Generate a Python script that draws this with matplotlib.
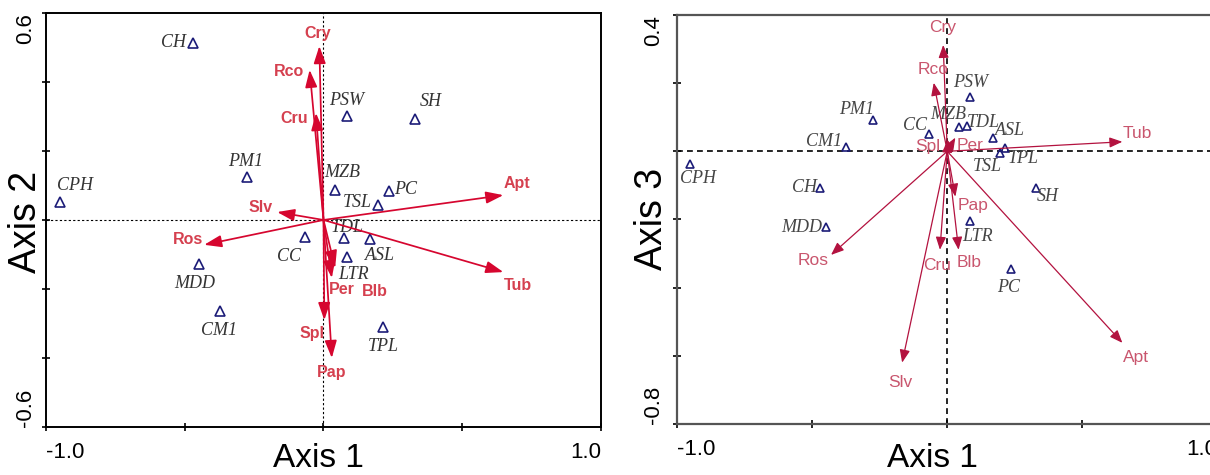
import matplotlib
matplotlib.use("Agg")
import matplotlib.pyplot as plt

plt.rcParams["font.family"] = ["Liberation Sans", "DejaVu Sans"]

# sites (triangles) on the three ordination axes
sites = ["CH", "CPH", "PM1", "PSW", "SH", "MZB", "PC", "TSL", "TDL", "ASL",
         "CC", "LTR", "MDD", "CM1", "TPL"]
site_ax1 = [-0.470, -0.951, -0.275, 0.085, 0.328, 0.043, 0.235, 0.196, 0.074,
            0.169, -0.068, 0.083, -0.450, -0.373, 0.214]
site_ax2 = [0.513, 0.052, 0.125, 0.301, 0.293, 0.087, 0.084, 0.043, -0.052,
            -0.055, -0.049, -0.107, -0.128, -0.264, -0.310]
site_ax3 = [-0.107, -0.037, 0.092, 0.160, -0.107, 0.072, -0.345, -0.004, 0.075,
            0.040, 0.051, -0.204, -0.221, 0.013, 0.010]

# traits (arrows)
traits = ["Cry", "Rco", "Cru", "Apt", "Slv", "Ros", "Tub", "Per", "Blb", "Spl", "Pap"]
trait_ax1 = [-0.015, -0.050, -0.027, 0.648, -0.167, -0.430, 0.648, 0.030, 0.042, 0.003, 0.030]
trait_ax2 = [0.504, 0.435, 0.310, 0.072, 0.023, -0.072, -0.151, -0.168, -0.139, -0.290, -0.400]
trait_ax3 = [0.312, 0.201, -0.289, -0.562, -0.620, -0.304, 0.028, 0.040, -0.289, 0.034, -0.133]

# label offsets in pixels (layout only)
site_off_left = {"CH": (-20, 0), "CPH": (15, 17), "PM1": (-2, 15), "PSW": (0, 16),
                 "SH": (16, 17), "MZB": (7, 17), "PC": (17, 1), "TSL": (-21, 3),
                 "TDL": (3, 10), "ASL": (10, -17), "CC": (-16, -20), "LTR": (7, -18),
                 "MDD": (-4, -19), "CM1": (-1, -19), "TPL": (0, -20)}
trait_off_left = {"Cry": (-2, 13), "Rco": (-21, -2), "Cru": (-22, -5), "Apt": (14, 12),
                  "Slv": (-17, 5), "Ros": (-16, 5), "Tub": (15, -13), "Per": (10, -12),
                  "Blb": (40, -24), "Spl": (-12, -13), "Pap": (0, -15)}
site_off_right = {"CH": (-16, 0), "CPH": (8, -15), "PM1": (-16, 10), "PSW": (0, 14),
                  "SH": (12, -9), "MZB": (-11, 12), "PC": (-2, -19), "TSL": (-13, -14),
                  "TDL": (16, 3), "ASL": (17, 7), "CC": (-14, 8), "LTR": (8, -16),
                  "MDD": (-24, -1), "CM1": (-22, 5), "TPL": (18, -11)}
trait_off_right = {"Cry": (-1, 17), "Rco": (-1, 13), "Cru": (-3, -16), "Apt": (14, -15),
                   "Slv": (-2, -20), "Ros": (-18, -6), "Tub": (15, 8), "Per": (15, -8),
                   "Blb": (11, -13), "Spl": (-20, -7), "Pap": (18, -9)}

fig = plt.figure(figsize=(12.1, 4.75), dpi=100)
ax_l = fig.add_axes([0.0380, 0.1011, 0.4587, 0.8716])
ax_r = fig.add_axes([0.5595, 0.1074, 0.4467, 0.8611])


def draw_panel(ax, ys, ts, yticks, site_off, trait_off, right):
    ax.set_xlim(-1.0, 1.0)
    ax.set_ylim(yticks[0], yticks[-1])
    if right:
        ax.axhline(0, color="black", lw=1.2, ls=(0, (3.5, 2.5)), zorder=1)
        ax.axvline(0, color="black", lw=1.2, ls=(0, (3.5, 2.5)), zorder=1)
        arrow_col, lab_col, lw, ms = "#b3123f", "#c9566e", 0.9, 5.5
        lab_font = dict(family=["Liberation Sans Narrow", "Liberation Sans"],
                        fontsize=12.5)
        site_col = "#454545"
        head = "-|>,head_length=0.55,head_width=0.22"
    else:
        ax.axhline(0, color="black", lw=0.8, ls=(0, (2, 2)), zorder=1)
        ax.axvline(0, color="black", lw=0.8, ls=(0, (2, 2)), zorder=1)
        arrow_col, lab_col, lw, ms = "#d6062f", "#d5404f", 1.25, 7
        lab_font = dict(fontsize=11.5, fontweight="bold")
        site_col = "#333333"
        head = "-|>,head_length=0.75,head_width=0.26"

    ax.plot(site_ax1, ys, ls="none", marker="^", ms=ms, mfc="none",
            mec="#1c1c78", mew=1.2, zorder=3)
    for name, x, y in zip(sites, site_ax1, ys):
        ax.annotate(name, (x, y), xytext=site_off[name], textcoords="offset pixels",
                    ha="center", va="center", fontsize=13, style="italic",
                    family=["Liberation Serif", "DejaVu Serif"], color=site_col,
                    zorder=4)

    for name, x, y in zip(traits, trait_ax1, ts):
        ax.annotate("", xy=(x, y), xytext=(0, 0),
                    arrowprops=dict(arrowstyle=head, color=arrow_col, lw=lw,
                                    mutation_scale=14, shrinkA=0, shrinkB=0),
                    zorder=5)
        ax.annotate(name, (x, y), xytext=trait_off[name], textcoords="offset pixels",
                    ha="center", va="center", color=lab_col, zorder=6, **lab_font)

    ax.set_xticks([-1.0, -0.5, 0.0, 0.5, 1.0])
    ax.set_xticklabels(["-1.0", "", "", "", "1.0"], fontsize=16)
    ax.set_yticks(yticks)
    ylabs = [""] * len(yticks)
    ylabs[0] = "%.1f" % yticks[0]
    ylabs[-1] = "%.1f" % yticks[-1]
    ax.set_yticklabels(ylabs, fontsize=16, rotation=90, va="center")
    xl = ax.get_xticklabels()
    xl[0].set_ha("left")
    xl[-1].set_ha("right")
    yl = ax.get_yticklabels()
    yl[0].set_va("bottom")
    yl[-1].set_va("top")
    ax.tick_params(direction="inout", length=6, width=1.2, colors="black")
    ax.tick_params(axis="x", pad=8)
    ax.tick_params(axis="y", pad=6 if right else 4)
    edge = "#555555" if right else "black"
    for sp in ax.spines.values():
        sp.set_color(edge)
        sp.set_linewidth(1.6 if right else 1.4)


draw_panel(ax_l, site_ax2, trait_ax2, [-0.6, -0.4, -0.2, 0.0, 0.2, 0.4, 0.6],
           site_off_left, trait_off_left, right=False)
draw_panel(ax_r, site_ax3, trait_ax3, [-0.8, -0.6, -0.4, -0.2, 0.0, 0.2, 0.4],
           site_off_right, trait_off_right, right=True)

fig.text(0.0215, 0.533, "Axis 2", rotation=90, ha="center", va="center", fontsize=27)
fig.text(0.263, 0.016, "Axis 1", ha="center", va="baseline", fontsize=24)
fig.text(0.5388, 0.539, "Axis 3", rotation=90, ha="center", va="center", fontsize=27)
fig.text(0.771, 0.016, "Axis 1", ha="center", va="baseline", fontsize=24)

fig.savefig("out.png", dpi=100)
